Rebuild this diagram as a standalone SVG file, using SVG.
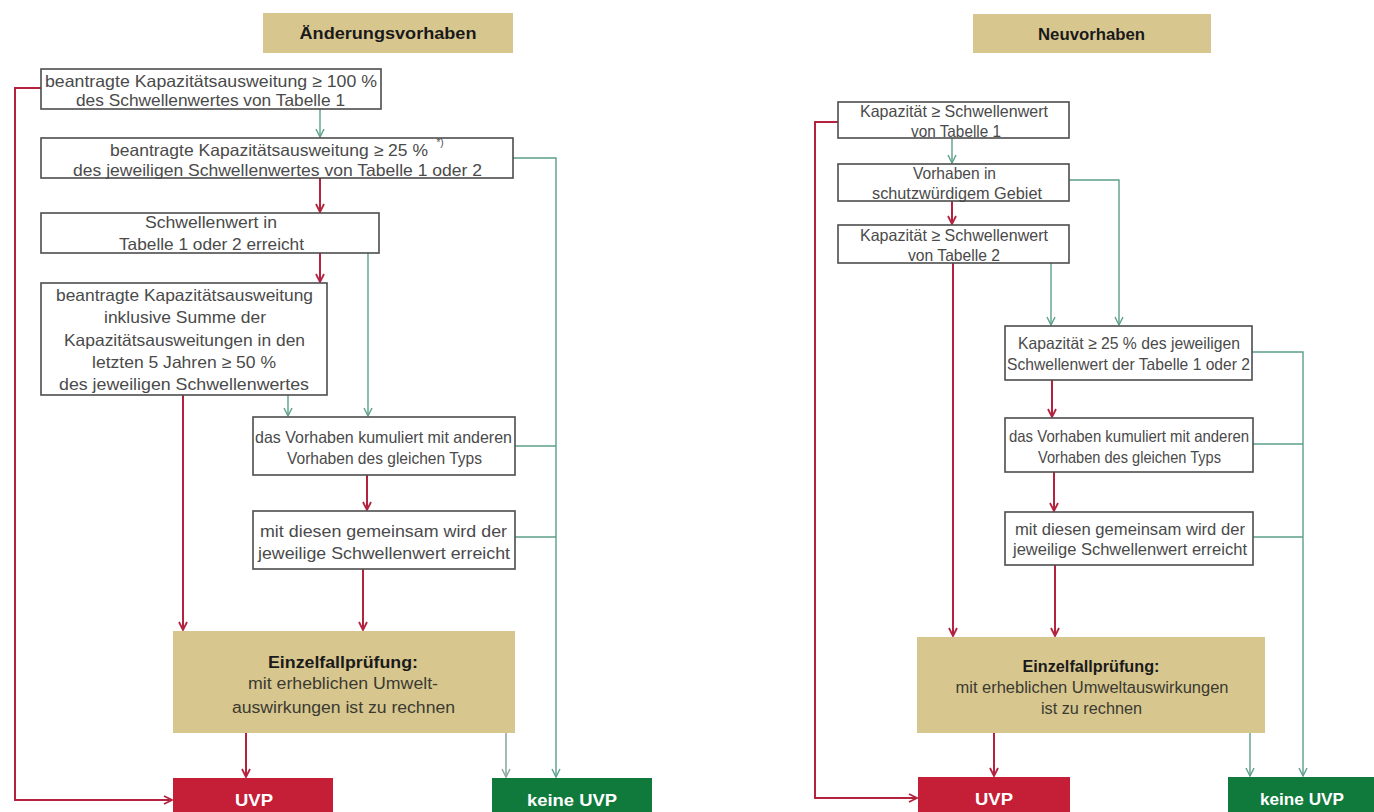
<svg xmlns="http://www.w3.org/2000/svg" width="1374" height="812" viewBox="0 0 1374 812">
<style>
.bx{fill:#fff;stroke:#4d4d4d;stroke-width:1.6}
.tan{fill:#d8c68f}
.red{fill:#c41f36}
.grn{fill:#0f7a3c}
.t{font-family:"Liberation Sans",Arial,sans-serif;font-size:16.5px;fill:#4a4a4a;text-anchor:middle}
.e{font-family:"Liberation Sans",Arial,sans-serif;font-size:16px;fill:#3a3a30;text-anchor:middle}
.h{font-family:"Liberation Sans",Arial,sans-serif;font-size:17px;font-weight:bold;fill:#1a1a1a;text-anchor:middle}
.w{font-family:"Liberation Sans",Arial,sans-serif;font-size:17px;font-weight:bold;fill:#fff;text-anchor:middle}
.cr{fill:none;stroke:#b3233f;stroke-width:2}
.cg{fill:none;stroke:#5c9f8c;stroke-width:1.4}
.cgg{fill:none;stroke:#8fa9a3;stroke-width:1.6}
</style>
<defs>
<marker id="ar" markerUnits="userSpaceOnUse" markerWidth="12" markerHeight="12" refX="9" refY="5" orient="auto"><path d="M1,1 L9,5 L1,9" fill="none" stroke="#b3233f" stroke-width="1.8"/></marker>
<marker id="ag" markerUnits="userSpaceOnUse" markerWidth="12" markerHeight="12" refX="9" refY="5" orient="auto"><path d="M1,1 L9,5 L1,9" fill="none" stroke="#5c9f8c" stroke-width="1.4"/></marker>
<marker id="agg" markerUnits="userSpaceOnUse" markerWidth="12" markerHeight="12" refX="9" refY="5" orient="auto"><path d="M1,1 L9,5 L1,9" fill="none" stroke="#8fa9a3" stroke-width="1.5"/></marker>
</defs>
<rect width="1374" height="812" fill="#fff"/>

<g id="connectors">
<!-- left -->
<path class="cr" d="M41,88 H15 V800 H172" marker-end="url(#ar)"/>
<path class="cg" d="M320,109 V137" marker-end="url(#ag)"/>
<path class="cr" d="M320,178 V212" marker-end="url(#ar)"/>
<path class="cr" d="M320,253 V282" marker-end="url(#ar)"/>
<path class="cg" d="M513,158 H556 V777" marker-end="url(#ag)"/>
<path class="cg" d="M368,253 V416" marker-end="url(#ag)"/>
<path class="cg" d="M288,395 V416" marker-end="url(#ag)"/>
<path class="cr" d="M183,395 V630" marker-end="url(#ar)"/>
<path class="cg" d="M515,446 H556"/>
<path class="cr" d="M367,475 V510" marker-end="url(#ar)"/>
<path class="cg" d="M515,537 H556"/>
<path class="cr" d="M363,569 V630" marker-end="url(#ar)"/>
<path class="cr" d="M246,733 V777" marker-end="url(#ar)"/>
<path class="cgg" d="M506,733 V777" marker-end="url(#agg)"/>
<!-- right -->
<path class="cr" d="M838,122 H815 V798 H917" marker-end="url(#ar)"/>
<path class="cg" d="M952,138 V163" marker-end="url(#ag)"/>
<path class="cr" d="M952,201 V224" marker-end="url(#ar)"/>
<path class="cg" d="M1069,180 H1119 V325" marker-end="url(#ag)"/>
<path class="cr" d="M953,263 V636" marker-end="url(#ar)"/>
<path class="cg" d="M1051,263 V325" marker-end="url(#ag)"/>
<path class="cg" d="M1252,352 H1303 V776" marker-end="url(#ag)"/>
<path class="cr" d="M1052,380 V417" marker-end="url(#ar)"/>
<path class="cg" d="M1253,444 H1303"/>
<path class="cr" d="M1054,472 V511" marker-end="url(#ar)"/>
<path class="cg" d="M1253,537 H1303"/>
<path class="cr" d="M1055,565 V636" marker-end="url(#ar)"/>
<path class="cr" d="M994,733 V776" marker-end="url(#ar)"/>
<path class="cg" d="M1250,733 V776" marker-end="url(#ag)"/>
</g>

<!-- left diagram -->
<g id="hdr-left"><rect class="tan" x="263" y="13" width="250" height="40"/><text class="h" x="388" y="39" textLength="177" lengthAdjust="spacingAndGlyphs">Änderungsvorhaben</text></g>
<g id="l1"><rect class="bx" x="41" y="69" width="340" height="40"/>
<text class="t" x="211" y="87" textLength="332" lengthAdjust="spacingAndGlyphs">beantragte Kapazitätsausweitung  ≥ 100 %</text>
<text class="t" x="210.5" y="106" textLength="269" lengthAdjust="spacingAndGlyphs">des Schwellenwertes von Tabelle 1</text></g>
<g id="l2"><rect class="bx" x="41" y="138" width="472" height="40"/>
<text class="t" x="269" y="156" textLength="318" lengthAdjust="spacingAndGlyphs">beantragte Kapazitätsausweitung ≥ 25 %</text>
<text class="t" x="440" y="146" style="font-size:10px">*)</text>
<text class="t" x="277.5" y="176" textLength="409" lengthAdjust="spacingAndGlyphs">des jeweiligen Schwellenwertes von Tabelle 1 oder 2</text></g>
<g id="l3"><rect class="bx" x="41" y="213" width="338" height="40"/>
<text class="t" x="211" y="228" textLength="132" lengthAdjust="spacingAndGlyphs">Schwellenwert in</text>
<text class="t" x="211.5" y="250" textLength="185" lengthAdjust="spacingAndGlyphs">Tabelle 1 oder 2 erreicht</text></g>
<g id="l4"><rect class="bx" x="41" y="283" width="286" height="112"/>
<text class="t" x="184.5" y="301" textLength="257" lengthAdjust="spacingAndGlyphs">beantragte Kapazitätsausweitung</text>
<text class="t" x="185" y="323" textLength="162" lengthAdjust="spacingAndGlyphs">inklusive Summe der</text>
<text class="t" x="184.5" y="346" textLength="241" lengthAdjust="spacingAndGlyphs">Kapazitätsausweitungen in den</text>
<text class="t" x="184" y="368" textLength="184" lengthAdjust="spacingAndGlyphs">letzten 5 Jahren ≥ 50 %</text>
<text class="t" x="184" y="390" textLength="250" lengthAdjust="spacingAndGlyphs">des jeweiligen Schwellenwertes</text></g>
<g id="l5"><rect class="bx" x="253" y="417" width="262" height="58"/>
<text class="t" x="383.5" y="443" textLength="257" lengthAdjust="spacingAndGlyphs">das Vorhaben kumuliert mit anderen</text>
<text class="t" x="384.5" y="464" textLength="195" lengthAdjust="spacingAndGlyphs">Vorhaben des gleichen Typs</text></g>
<g id="l6"><rect class="bx" x="253" y="511" width="262" height="58"/>
<text class="t" x="383.5" y="537" textLength="247" lengthAdjust="spacingAndGlyphs">mit diesen gemeinsam wird der</text>
<text class="t" x="384" y="559" textLength="252" lengthAdjust="spacingAndGlyphs">jeweilige Schwellenwert erreicht</text></g>
<g id="l-einzel"><rect class="tan" x="173" y="631" width="342" height="102"/>
<text class="h" x="343" y="668" textLength="150" lengthAdjust="spacingAndGlyphs" style="font-size:16px">Einzelfallprüfung:</text>
<text class="e" x="343" y="689" textLength="190" lengthAdjust="spacingAndGlyphs">mit erheblichen Umwelt-</text>
<text class="e" x="343.5" y="713" textLength="223" lengthAdjust="spacingAndGlyphs">auswirkungen ist zu rechnen</text></g>
<g id="l-uvp"><rect class="red" x="173" y="778" width="160" height="40"/><text class="w" x="254" y="806" textLength="38" lengthAdjust="spacingAndGlyphs">UVP</text></g>
<g id="l-keine"><rect class="grn" x="492" y="778" width="160" height="40"/><text class="w" x="572" y="806" textLength="90" lengthAdjust="spacingAndGlyphs">keine UVP</text></g>

<!-- right diagram -->
<g id="hdr-right"><rect class="tan" x="973" y="14" width="238" height="39"/><text class="h" x="1091.5" y="40" textLength="107" lengthAdjust="spacingAndGlyphs">Neuvorhaben</text></g>
<g id="r1"><rect class="bx" x="838" y="102" width="231" height="36"/>
<text class="t" x="954" y="117" textLength="188" lengthAdjust="spacingAndGlyphs">Kapazität ≥ Schwellenwert</text>
<text class="t" x="956" y="137" textLength="90" lengthAdjust="spacingAndGlyphs">von Tabelle 1</text></g>
<g id="r2"><rect class="bx" x="838" y="164" width="231" height="37"/>
<text class="t" x="954.5" y="179" textLength="83" lengthAdjust="spacingAndGlyphs">Vorhaben in</text>
<text class="t" x="957" y="199" textLength="170" lengthAdjust="spacingAndGlyphs">schutzwürdigem Gebiet</text></g>
<g id="r3"><rect class="bx" x="838" y="225" width="231" height="38"/>
<text class="t" x="954" y="241" textLength="188" lengthAdjust="spacingAndGlyphs">Kapazität ≥ Schwellenwert</text>
<text class="t" x="954" y="261" textLength="92" lengthAdjust="spacingAndGlyphs">von Tabelle 2</text></g>
<g id="r4"><rect class="bx" x="1005" y="326" width="247" height="54"/>
<text class="t" x="1129" y="349" textLength="222" lengthAdjust="spacingAndGlyphs">Kapazität ≥ 25 % des jeweiligen</text>
<text class="t" x="1128.5" y="370" textLength="243" lengthAdjust="spacingAndGlyphs">Schwellenwert der Tabelle 1 oder 2</text></g>
<g id="r5"><rect class="bx" x="1005" y="418" width="248" height="54"/>
<text class="t" x="1129" y="442" textLength="240" lengthAdjust="spacingAndGlyphs">das Vorhaben kumuliert mit anderen</text>
<text class="t" x="1129.5" y="463" textLength="183" lengthAdjust="spacingAndGlyphs">Vorhaben des gleichen Typs</text></g>
<g id="r6"><rect class="bx" x="1005" y="512" width="248" height="53"/>
<text class="t" x="1130" y="535" textLength="230" lengthAdjust="spacingAndGlyphs">mit diesen gemeinsam wird der</text>
<text class="t" x="1130" y="555" textLength="234" lengthAdjust="spacingAndGlyphs">jeweilige Schwellenwert erreicht</text></g>
<g id="r-einzel"><rect class="tan" x="917" y="637" width="348" height="96"/>
<text class="h" x="1091" y="672" textLength="137" lengthAdjust="spacingAndGlyphs" style="font-size:16px">Einzelfallprüfung:</text>
<text class="e" x="1092" y="693" textLength="273" lengthAdjust="spacingAndGlyphs">mit erheblichen Umweltauswirkungen</text>
<text class="e" x="1091.5" y="714" textLength="101" lengthAdjust="spacingAndGlyphs">ist zu rechnen</text></g>
<g id="r-uvp"><rect class="red" x="918" y="777" width="152" height="40"/><text class="w" x="994" y="805" textLength="38" lengthAdjust="spacingAndGlyphs">UVP</text></g>
<g id="r-keine"><rect class="grn" x="1228" y="777" width="146" height="40"/><text class="w" x="1302" y="805" textLength="84" lengthAdjust="spacingAndGlyphs">keine UVP</text></g>
</svg>
